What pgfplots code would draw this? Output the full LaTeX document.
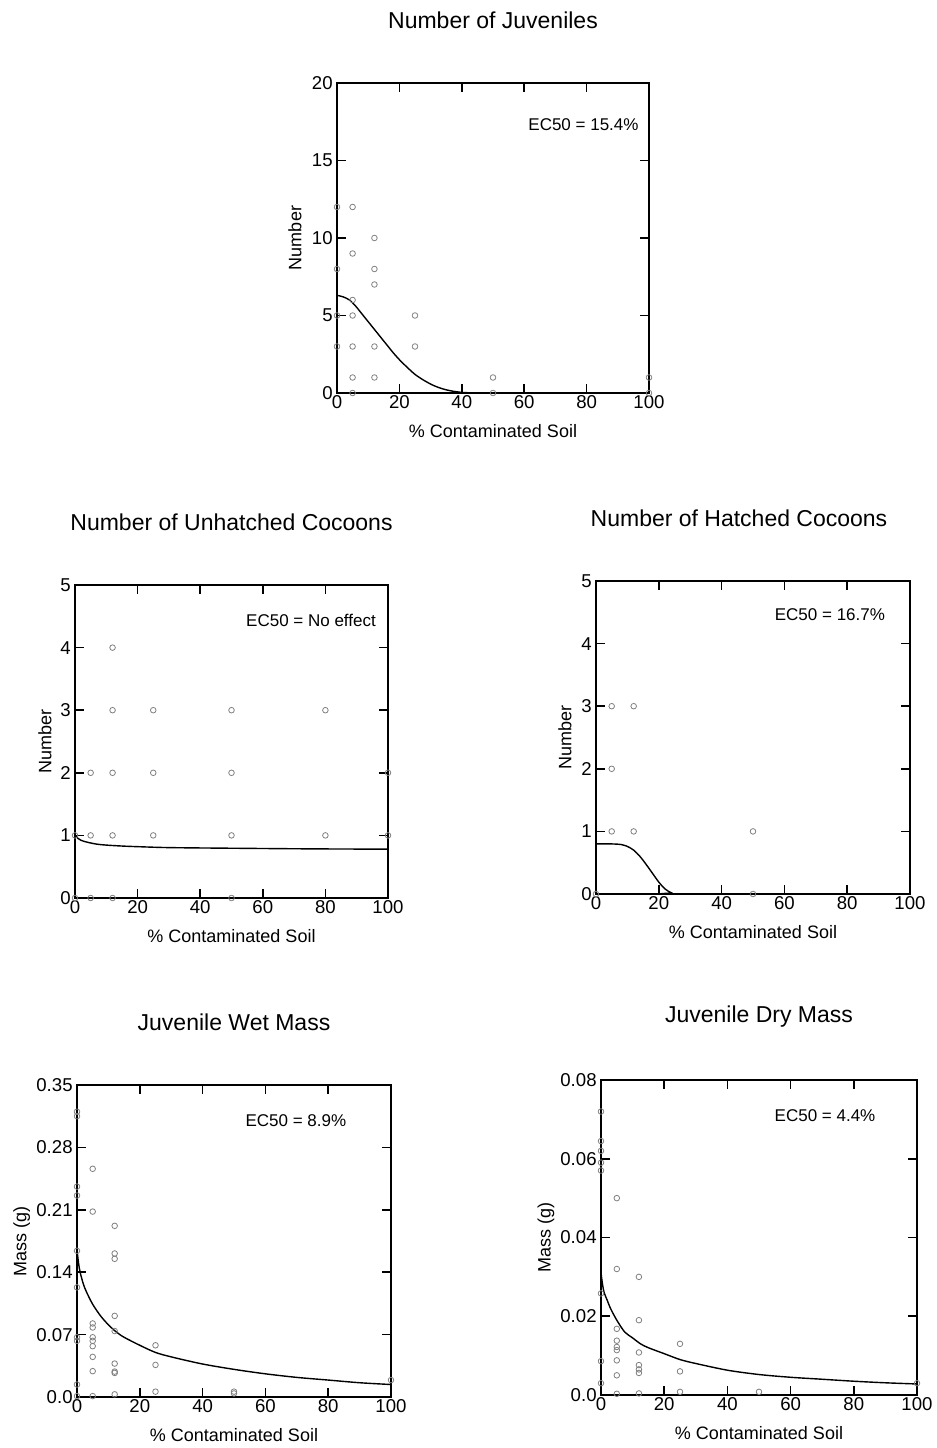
\documentclass[border=0pt]{standalone}
\usepackage{pgfplots}
\pgfplotsset{compat=1.18}
\usepackage{fontspec}
\setmainfont{Liberation Sans}
\tikzset{ec/.style={font=\fontsize{8.5}{10}\selectfont, anchor=center}}
\pgfplotsset{
  panel/.style={
    scale only axis, anchor=south west,
    xmin=0, xmax=100, xtick={0,20,40,60,80,100},
    tick align=inside, major tick length=4.5pt,
    axis line style={line width=0.8pt},
    every tick/.style={line width=0.8pt, black},
    scaled y ticks=false, scaled x ticks=false,
    /pgf/number format/assume math mode=true,
    tick label style={font=\fontsize{9.3}{10}\selectfont},
    xticklabel style={inner sep=1.2pt},
    yticklabel style={inner sep=2pt},
    label style={font=\fontsize{9}{10}\selectfont},
    xlabel={\% Contaminated Soil},
    xlabel style={at={(axis description cs:0.5,0)}, anchor=center, yshift=-19pt},
    title style={font=\fontsize{11.5}{12}\selectfont, at={(axis description cs:0.5,1)}, anchor=center, yshift=25.5pt},
    clip=false,
  },
  pts/.style={only marks, mark=o, mark size=1.4pt, color=black!50, mark options={line width=0.4pt}},
  fit/.style={black, line width=0.7pt, no marks, smooth},
}
\begin{document}
\begin{tikzpicture}
\path[use as bounding box] (0,0) rectangle (468.5pt,724pt);

% Number of Juveniles
\begin{axis}[panel, at={(168.5pt,527.5pt)}, width=156pt, height=155pt,
  ymin=0, ymax=20, ytick={0,5,10,15,20},
  title={Number of Juveniles}, ylabel={Number},
  ylabel style={at={(axis description cs:-0.135,0.5)}, anchor=center}]
\addplot[pts] coordinates {
 (0,12) (0,8) (0,5) (0,3)
 (5,12) (5,9) (5,6) (5,5) (5,3) (5,1) (5,0)
 (12,10) (12,8) (12,7) (12,3) (12,1)
 (25,5) (25,3)
 (50,1) (50,0)
 (100,1) (100,0)};
\addplot[fit] coordinates {
 (0,6.3) (2,6.2) (4,6.0) (6,5.6) (8,5.1) (10,4.6) (12,4.1) (14,3.6) (16,3.1)
 (18,2.6) (20,2.15) (22,1.75) (25,1.2) (28,0.8) (31,0.48) (34,0.26) (37,0.12)
 (40,0.04) (43,0.01) (46,0)};
\node[ec] at (axis description cs:0.79,0.865) {EC50 = 15.4\%};
\end{axis}

% Unhatched cocoons
\begin{axis}[panel, at={(37.5pt,275pt)}, width=156.5pt, height=156.5pt,
  ymin=0, ymax=5, ytick={0,1,2,3,4,5},
  title={Number of Unhatched Cocoons}, ylabel={Number},
  ylabel style={at={(axis description cs:-0.096,0.5)}, anchor=center}]
\addplot[pts] coordinates {
 (0,1) (0,0)
 (5,2) (5,1) (5,0)
 (12,4) (12,3) (12,2) (12,1) (12,0)
 (25,3) (25,2) (25,1)
 (50,3) (50,2) (50,1) (50,0)
 (80,3) (80,1)
 (100,2) (100,1)};
\addplot[fit] coordinates {
 (0,1.0) (1,0.95) (2,0.92) (4,0.89) (7,0.86) (10,0.845) (15,0.83) (20,0.82)
 (30,0.805) (50,0.795) (75,0.785) (100,0.78)};
\node[ec] at (axis description cs:0.754,0.888) {EC50 = No effect};
\end{axis}

% Hatched cocoons
\begin{axis}[panel, at={(298pt,277pt)}, width=157pt, height=156.5pt,
  ymin=0, ymax=5, ytick={0,1,2,3,4,5},
  title={Number of Hatched Cocoons}, ylabel={Number},
  title style={xshift=-7pt},
  ylabel style={at={(axis description cs:-0.099,0.5)}, anchor=center}]
\addplot[pts] coordinates {
 (0,0)
 (5,3) (5,2) (5,1)
 (12,3) (12,1)
 (50,1) (50,0)};
\addplot[fit] coordinates {
 (0,0.8) (5,0.8) (8,0.79) (10,0.76) (12,0.7) (14,0.6) (16,0.47) (18,0.33)
 (20,0.19) (22,0.08) (24,0.02) (26,0) (100,0)};
\node[ec] at (axis description cs:0.745,0.891) {EC50 = 16.7\%};
\end{axis}

% Juvenile Wet Mass
\begin{axis}[panel, at={(38.5pt,25.5pt)}, width=157pt, height=156pt,
  ymin=0, ymax=0.35, ytick={0,0.07,0.14,0.21,0.28,0.35},
  yticklabels={0.0,0.07,0.14,0.21,0.28,0.35},
  title={Juvenile Wet Mass}, ylabel={Mass (g)},
  ylabel style={at={(axis description cs:-0.176,0.5)}, anchor=center}]
\addplot[pts] coordinates {
 (0,0.32) (0,0.315) (0,0.236) (0,0.226) (0,0.164) (0,0.123) (0,0.067) (0,0.063) (0,0.014) (0,0.001)
 (5,0.256) (5,0.208) (5,0.0825) (5,0.078) (5,0.067) (5,0.063) (5,0.057) (5,0.045) (5,0.029) (5,0.001)
 (12,0.192) (12,0.161) (12,0.155) (12,0.091) (12,0.074) (12,0.0375) (12,0.0285) (12,0.027) (12,0.003)
 (25,0.058) (25,0.036) (25,0.006)
 (50,0.006) (50,0.004)
 (100,0.019)};
\addplot[fit] coordinates {
 (0,0.165) (0.5,0.15) (1,0.14) (2,0.127) (3,0.118) (5,0.104) (7.5,0.091) (10,0.081)
 (12.5,0.073) (15,0.067) (20,0.058) (25,0.050) (30,0.045) (40,0.037) (50,0.031)
 (60,0.026) (70,0.022) (80,0.019) (90,0.016) (100,0.014)};
\node[ec] at (axis description cs:0.697,0.885) {EC50 = 8.9\%};
\end{axis}

% Juvenile Dry Mass
\begin{axis}[panel, at={(300.5pt,26.5pt)}, width=158pt, height=157.5pt,
  ymin=0, ymax=0.08, ytick={0,0.02,0.04,0.06,0.08},
  yticklabels={0.0,0.02,0.04,0.06,0.08},
  title={Juvenile Dry Mass}, ylabel={Mass (g)},
  ylabel style={at={(axis description cs:-0.174,0.5)}, anchor=center}]
\addplot[pts] coordinates {
 (0,0.072) (0,0.0645) (0,0.062) (0,0.059) (0,0.057) (0,0.0258) (0,0.0086) (0,0.003)
 (5,0.050) (5,0.032) (5,0.0168) (5,0.0138) (5,0.0122) (5,0.0114) (5,0.0088) (5,0.005) (5,0.0003)
 (12,0.030) (12,0.019) (12,0.0108) (12,0.0076) (12,0.0065) (12,0.0056) (12,0.0004)
 (25,0.013) (25,0.006) (25,0.0008)
 (50,0.0008)
 (100,0.003)};
\addplot[fit] coordinates {
 (0,0.031) (0.5,0.028) (1,0.026) (2,0.024) (3,0.022) (5,0.019) (7.5,0.016) (10,0.0145)
 (12.5,0.013) (15,0.012) (20,0.0105) (25,0.009) (30,0.008) (40,0.0063) (50,0.0052)
 (60,0.0045) (70,0.004) (80,0.0035) (90,0.0031) (100,0.0028)};
\node[ec] at (axis description cs:0.709,0.886) {EC50 = 4.4\%};
\end{axis}
\end{tikzpicture}
\end{document}
